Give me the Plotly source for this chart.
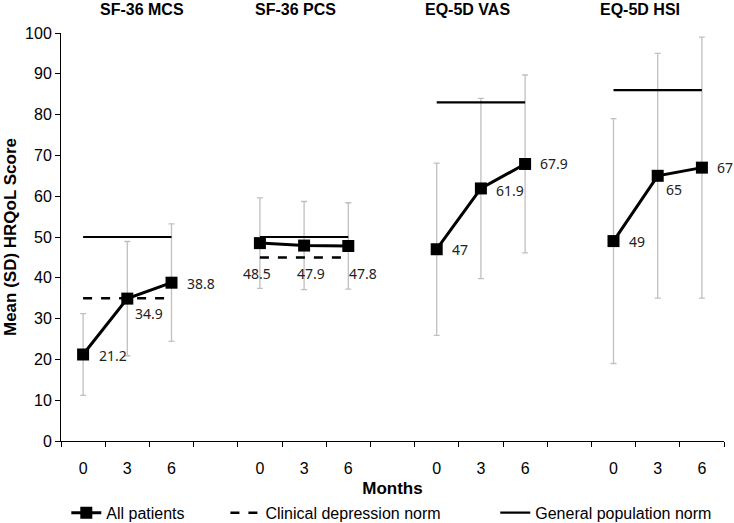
import plotly.graph_objects as go

# ---- data ----
groups = ["SF-36 MCS", "SF-36 PCS", "EQ-5D VAS", "EQ-5D HSI"]
months = ["0", "3", "6"]
means = {
    "SF-36 MCS": [21.2, 34.9, 38.8],
    "SF-36 PCS": [48.5, 47.9, 47.8],
    "EQ-5D VAS": [47.0, 61.9, 67.9],
    "EQ-5D HSI": [49.0, 65.0, 67.0],
}
sds = {
    "SF-36 MCS": [10.0, 14.0, 14.4],
    "SF-36 PCS": [11.1, 10.8, 10.6],
    "EQ-5D VAS": [21.1, 22.1, 21.8],
    "EQ-5D HSI": [30.0, 30.0, 32.0],
}
depression_norm = {"SF-36 MCS": 35, "SF-36 PCS": 45}
population_norm = {"SF-36 MCS": 50, "SF-36 PCS": 50, "EQ-5D VAS": 83, "EQ-5D HSI": 86}
value_labels = {
    "SF-36 MCS": ["21.2", "34.9", "38.8"],
    "SF-36 PCS": ["48.5", "47.9", "47.8"],
    "EQ-5D VAS": ["47", "61.9", "67.9"],
    "EQ-5D HSI": ["49", "65", "67"],
}

# label placement style (pixel shifts)
label_shift = {
    "SF-36 MCS": [(14, -1, "left"), (6, -15, "left"), (13, -1, "left")],
    "SF-36 PCS": [(-3, -30, "center"), (7, -28, "center"), (15, -28, "center")],
    "EQ-5D VAS": [(13, 0, "left"), (13, -2, "left"), (13, 0, "left")],
    "EQ-5D HSI": [(13, 0, "left"), (6, -14, "left"), (13, 0, "left")],
}

# ---- category layout ----
cats, tick_text = [], []
for gi, g in enumerate(groups):
    for m in months:
        cats.append(f"{g}|{m}")
        tick_text.append(m)
    if gi < len(groups) - 1:
        cats.append(f"gap{gi}")
        tick_text.append("")

def cat(g, i):
    return f"{g}|{months[i]}"

# patient series with breaks
px, py, pe = [], [], []
for gi, g in enumerate(groups):
    for i in range(3):
        px.append(cat(g, i)); py.append(means[g][i]); pe.append(sds[g][i])
    if gi < len(groups) - 1:
        px.append(f"gap{gi}"); py.append(None); pe.append(None)

def norm_xy(norm):
    xs, ys = [], []
    for g in groups:
        if g in norm:
            xs += [cat(g, 0), cat(g, 2), cat(g, 2)]
            ys += [norm[g], norm[g], None]
    return xs, ys

fig = go.Figure()

# error bars (behind)
fig.add_trace(go.Scatter(
    x=px, y=py, mode="markers", marker=dict(size=1, opacity=0),
    error_y=dict(type="data", array=pe, visible=True, color="#c0c0c0",
                 thickness=1.3, width=3),
    showlegend=False, hoverinfo="skip"))

dx, dy = norm_xy(depression_norm)
gx, gy = norm_xy(population_norm)

fig.add_trace(go.Scatter(
    x=gx, y=gy, mode="lines", name="General population norm", legend="legend3",
    line=dict(color="black", width=2.2), connectgaps=False))
fig.add_trace(go.Scatter(
    x=dx, y=dy, mode="lines", name="Clinical depression norm", legend="legend2",
    line=dict(color="black", width=2.5, dash="dash"), connectgaps=False))
fig.add_trace(go.Scatter(
    x=px, y=py, mode="lines+markers", name="All patients", legend="legend",
    line=dict(color="black", width=3),
    marker=dict(symbol="square", size=12, color="black"),
    connectgaps=False))

annotations = []
for g in groups:
    for i in range(3):
        xs, ys, anc = label_shift[g][i]
        annotations.append(dict(
            x=cat(g, i), y=means[g][i], text=value_labels[g][i],
            xref="x", yref="y", showarrow=False, xanchor=anc, yanchor="middle",
            xshift=xs, yshift=ys,
            font=dict(family="Noto Sans", size=14, color="#222")))

# group titles (center position in category units)
title_pos = {"SF-36 MCS": 1.33, "SF-36 PCS": 4.8, "EQ-5D VAS": 8.7, "EQ-5D HSI": 12.6}
for g in groups:
    annotations.append(dict(
        x=(title_pos[g] + 0.5) / len(cats), y=1.0, xref="paper", yref="paper",
        xanchor="center", yanchor="middle", yshift=24, text=f"<b>{g}</b>",
        showarrow=False,
        font=dict(family="Liberation Sans", size=16, color="black")))

leg_common = dict(orientation="h", y=-0.176, xanchor="left", yanchor="middle",
                  font=dict(size=16, family="Liberation Sans"),
                  bgcolor="rgba(0,0,0,0)", borderwidth=0)

fig.update_layout(
    width=734, height=523,
    margin=dict(l=61, r=10, t=33, b=82, autoexpand=False),
    paper_bgcolor="white", plot_bgcolor="white",
    font=dict(family="Liberation Sans", color="black"),
    annotations=annotations,
    legend=dict(x=0.008, **leg_common),
    legend2=dict(x=0.248, **leg_common),
    legend3=dict(x=0.655, **leg_common),
    xaxis=dict(type="category", categoryorder="array", categoryarray=cats,
               tickmode="array", tickvals=cats, ticktext=tick_text,
               tickson="boundaries", ticks="outside", ticklen=5, tickcolor="black",
               showline=True, linecolor="black", linewidth=1, showgrid=False,
               range=[-0.5, len(cats) - 0.5], automargin=False,
               ticklabelstandoff=13,
               tickfont=dict(size=16, family="Liberation Sans"),
               title=dict(text="<b>Months</b>", font=dict(size=17), standoff=5)),
    yaxis=dict(range=[0, 100], dtick=10, ticks="outside", ticklen=5, tickcolor="black",
               showline=True, linecolor="black", linewidth=1, showgrid=False,
               zeroline=False, automargin=False,
               tickfont=dict(size=16, family="Liberation Sans"),
               title=dict(text="<b>Mean (SD) HRQoL Score</b>", font=dict(size=17),
                          standoff=4)),
)

fig.write_html("out.html",
               config={"displayModeBar": False},
               post_script="document.body.style.margin='0';document.body.style.overflow='hidden';")
